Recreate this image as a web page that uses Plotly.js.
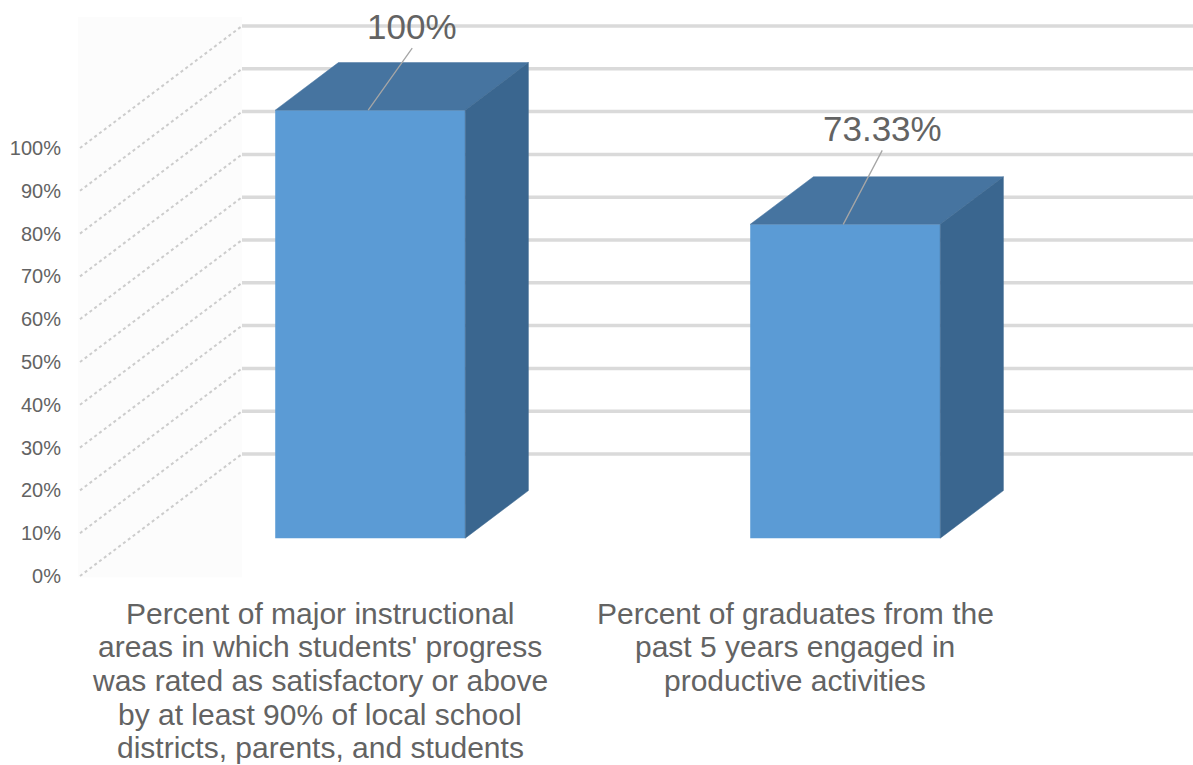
<!DOCTYPE html>
<html>
<head>
<meta charset="utf-8">
<script src="https://cdn.plot.ly/plotly-3.0.1.min.js"></script>
<style>
  html, body { margin: 0; padding: 0; background: #ffffff; }
  #chart { width: 1193px; height: 765px; }
</style>
</head>
<body>
<div id="chart"></div>
<script>
// ---------------- DATA ----------------
const categories = [
  "Percent of major instructional<br>areas in which students' progress<br>was rated as satisfactory or above<br>by at least 90% of local school<br>districts, parents, and students",
  "Percent of graduates from the<br>past 5 years engaged in<br>productive activities"
];
const values = [100, 73.33];
const dataLabels = ["100%", "73.33%"];
const tickValues = [0, 10, 20, 30, 40, 50, 60, 70, 80, 90, 100];
const tickLabels = ["0%", "10%", "20%", "30%", "40%", "50%", "60%", "70%", "80%", "90%", "100%"];

// ---------------- LAYOUT / STYLE ----------------
const W = 1193, H = 765, L = 62;
const PXU = 4.28;            // pixels per percent unit
const Y0PX = 576;            // pixel row of the 0% tick on the front plane
const yRange = [-(H - Y0PX) / PXU, Y0PX / PXU];
const xRange = [L, W];       // x axis measured in horizontal pixel units

const catX0 = 320, catStep = 475, barW = 190;
const DEPTH_X = 162, DEPTH_Y = 122 / PXU;   // full floor depth (front plane -> back wall)
const FRONT = 0.31, DEPTH = 0.39;            // bar front position / bar depth as fractions
const WALL_X0 = 80;                          // front-left corner of floor lines

const FRONT_COLOR = "#5b9bd5", TOP_COLOR = "#4674a0", SIDE_COLOR = "#3a668f";
const TEXT_COLOR = "#636363";
const FONT = "Liberation Sans, Arial, sans-serif";
const labelOffsets = [[44, -62], [39, -74]];

const baseY = FRONT * DEPTH_Y;
const centers = categories.map((c, i) => catX0 + i * catStep + FRONT * DEPTH_X);

const traces = [];

// front faces as bars
traces.push({
  type: "bar",
  x: centers,
  y: values,
  base: baseY,
  width: barW,
  marker: { color: FRONT_COLOR, line: { width: 0 } },
  hoverinfo: "skip",
  showlegend: false
});

const dx = DEPTH * DEPTH_X, dy = DEPTH * DEPTH_Y;
values.forEach((v, i) => {
  const xl = centers[i] - barW / 2, xr = centers[i] + barW / 2, yt = baseY + v;
  traces.push({
    type: "scatter", mode: "lines", fill: "toself",
    x: [xl, xr, xr + dx, xl + dx, xl],
    y: [yt, yt, yt + dy, yt + dy, yt],
    fillcolor: TOP_COLOR, line: { color: TOP_COLOR, width: 0.5 },
    hoverinfo: "skip", showlegend: false
  });
  traces.push({
    type: "scatter", mode: "lines", fill: "toself",
    x: [xr, xr, xr + dx, xr + dx, xr],
    y: [baseY, yt, yt + dy, baseY + dy, baseY],
    fillcolor: SIDE_COLOR, line: { color: SIDE_COLOR, width: 0.5 },
    hoverinfo: "skip", showlegend: false
  });
});

// gridlines (back wall) and floor/side-wall diagonals as background shapes
const shapes = [];
shapes.push({
  type: "rect", layer: "below", xref: "x", yref: "y",
  x0: 78, x1: WALL_X0 + DEPTH_X, y0: -0.3, y1: (Y0PX - 17) / PXU,
  fillcolor: "#fcfcfc", line: { width: 0 }
});
tickValues.forEach(v => {
  shapes.push({
    type: "line", layer: "below", xref: "x", yref: "y",
    x0: WALL_X0, y0: v, x1: WALL_X0 + DEPTH_X, y1: v + DEPTH_Y,
    line: { color: "#cccccc", width: 2, dash: "dot" }
  });
  shapes.push({
    type: "line", layer: "below", xref: "x", yref: "y",
    x0: WALL_X0 + DEPTH_X, y0: v + DEPTH_Y, x1: W, y1: v + DEPTH_Y,
    line: { color: "#dadada", width: 3.5 }
  });
});

// annotations: data labels with leader lines, and category labels
const annotations = [];
values.forEach((v, i) => {
  annotations.push({
    xref: "x", yref: "y",
    x: centers[i] - 2, y: baseY + v,
    text: dataLabels[i],
    showarrow: true, arrowhead: 0, arrowwidth: 1.3, arrowcolor: "#a6a6a6",
    standoff: 0, startstandoff: 0,
    ax: labelOffsets[i][0], ay: labelOffsets[i][1],
    xanchor: "center", yanchor: "bottom",
    font: { family: FONT, size: 35, color: TEXT_COLOR }
  });
});
categories.forEach((c, i) => {
  c.split("<br>").forEach((line, k) => {
    annotations.push({
      xref: "x", yref: "y",
      x: catX0 + i * catStep, y: 0,
      yshift: -37 - 33.7 * k,
      text: line, showarrow: false,
      xanchor: "center", yanchor: "middle",
      font: { family: FONT, size: 30, color: TEXT_COLOR }
    });
  });
});

const layout = {
  width: W, height: H,
  margin: { l: L, r: 0, t: 0, b: 0, pad: 0 },
  paper_bgcolor: "#ffffff", plot_bgcolor: "#ffffff",
  showlegend: false,
  xaxis: { range: xRange, visible: false, fixedrange: true },
  yaxis: {
    range: yRange, tickmode: "array", tickvals: tickValues, ticktext: tickLabels,
    showgrid: false, zeroline: false, showline: false, ticks: "",
    tickfont: { family: FONT, size: 20, color: TEXT_COLOR }, fixedrange: true
  },
  shapes: shapes,
  annotations: annotations,
  font: { family: FONT, color: TEXT_COLOR }
};

Plotly.newPlot("chart", traces, layout, { staticPlot: true, displayModeBar: false });
</script>
</body>
</html>
